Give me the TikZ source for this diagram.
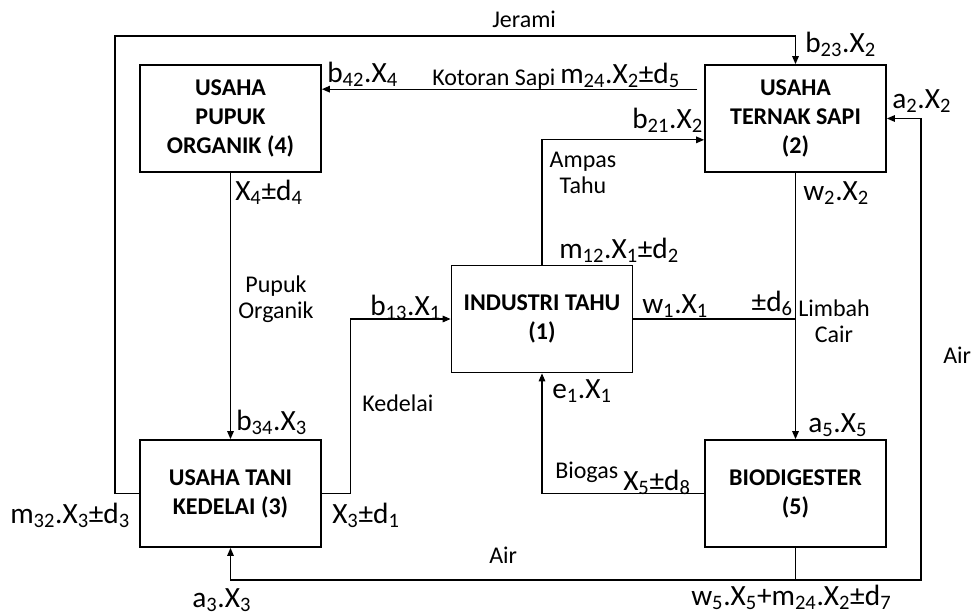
\documentclass[tikz,border=0pt]{standalone}
\usepackage{fontspec}
\setmainfont{Carlito}
\usetikzlibrary{arrows.meta}
\newcommand{\sbs}[1]{\textsubscript{#1}}
\tikzset{
  blok/.style={draw, line width=1.4pt, minimum width=135.75pt, minimum height=80.25pt,
    align=center, inner sep=0pt, font=\fontsize{18}{21.75}\selectfont\bfseries},
  alur/.style={line width=0.8pt},
  panah/.style={alur, -{Triangle[length=6pt,width=5pt]}},
  ket/.style={anchor=base west, inner sep=0pt, font=\fontsize{18}{19.5}\selectfont},
  pers/.style={anchor=base west, inner sep=0pt, font=\fontsize{22}{26}\selectfont},
}
\begin{document}
\begin{tikzpicture}[x=0.75pt, y=-0.75pt]
        \useasboundingbox (0,0) rectangle (972,615);

        % Blocks
        \node[blok] (pupuk) at (230.5,118.5) {USAHA\\PUPUK\\ORGANIK (4)};
        \node[blok] (ternak) at (795.5,118.5) {USAHA\\TERNAK SAPI\\(2)};
        \node[blok] (tahu) at (542,319) {INDUSTRI TAHU\\(1)};
        \node[blok] (tani) at (230.5,493.5) {USAHA TANI\\KEDELAI (3)};
        \node[blok] (bio) at (795.5,493.5) {BIODIGESTER\\(5)};

        % Turning points
        \coordinate (jerami) at (115,36);
        \coordinate (airR) at (921,580);

        % Flows
        \draw[panah] (tani.west) -| (jerami) -| (ternak.north);
        \draw[panah, shorten <=5pt] ([yshift=22pt]ternak.west) -- ([yshift=22pt]pupuk.east);
        \draw[panah] (tahu.north) |- ([yshift=-16pt]ternak.west);
        \draw[panah] (pupuk.south) -- (tani.north);
        \draw[panah] (tani.east) -- ++(29,0) |- (tahu.west);
        \draw[alur] (tahu.east) -- (tahu.east -| ternak.south);
        \draw[panah] (ternak.south) -- (bio.north);
        \draw[panah] (bio.west) -| (tahu.south);
        \draw[panah] (bio.south) |- (airR) |- (ternak.east);
        \draw[panah] (bio.south |- airR) -| (tani.south);

        % Labels
        \node[ket] (tJerami) at (492,27) {Jerami};
        \node[pers] (tb23) at (805,52) {b\sbs{23}.X\sbs{2}};
        \node[pers] (tb42) at (327,82) {b\sbs{42}.X\sbs{4}};
        \node[ket, fill=white] (tKotoran) at (432,85) {Kotoran Sapi};
        \node[pers] (tm24) at (560,83) {m\sbs{24}.X\sbs{2}±d\sbs{5}};
        \node[pers] (ta2) at (892,108) {a\sbs{2}.X\sbs{2}};
        \node[pers] (tb21) at (632,128) {b\sbs{21}.X\sbs{2}};
        \node[ket, anchor=base, align=center] (tAmpas) at (583,193) {Ampas\\Tahu};
        \node[pers] (tw2) at (803,200) {w\sbs{2}.X\sbs{2}};
        \node[pers] (tX4) at (235,200) {X\sbs{4}±d\sbs{4}};
        \node[ket, anchor=base, align=center] (tPupuk) at (276,318) {Pupuk\\Organik};
        \node[pers] (tm12) at (559,258) {m\sbs{12}.X\sbs{1}±d\sbs{2}};
        \node[pers] (tb13) at (370,315) {b\sbs{13}.X\sbs{1}};
        \node[pers] (tw1) at (642,313) {w\sbs{1}.X\sbs{1}};
        \node[pers, anchor=base east] (td6) at (793,311) {±d\sbs{6}};
        \node[ket, anchor=base, align=center] (tLimbah) at (834,342) {Limbah\\Cair};
        \node[ket] (tAirR) at (943,363) {Air};
        \node[pers] (te1) at (552,398) {e\sbs{1}.X\sbs{1}};
        \node[ket] (tKedelai) at (362,411) {Kedelai};
        \node[pers] (tb34) at (236,430) {b\sbs{34}.X\sbs{3}};
        \node[pers] (ta5) at (808,432) {a\sbs{5}.X\sbs{5}};
        \node[ket] (tBiogas) at (555,478) {Biogas};
        \node[pers] (tX5) at (623,490) {X\sbs{5}±d\sbs{8}};
        \node[pers] (tm32) at (10,523) {m\sbs{32}.X\sbs{3}±d\sbs{3}};
        \node[pers] (tX3) at (332,523) {X\sbs{3}±d\sbs{1}};
        \node[ket] (tAirB) at (489,563) {Air};
        \node[pers] (ta3) at (192,607) {a\sbs{3}.X\sbs{3}};
        \node[pers] (tw5) at (691,605) {w\sbs{5}.X\sbs{5}+m\sbs{24}.X\sbs{2}±d\sbs{7}};
    \end{tikzpicture}
\end{document}
